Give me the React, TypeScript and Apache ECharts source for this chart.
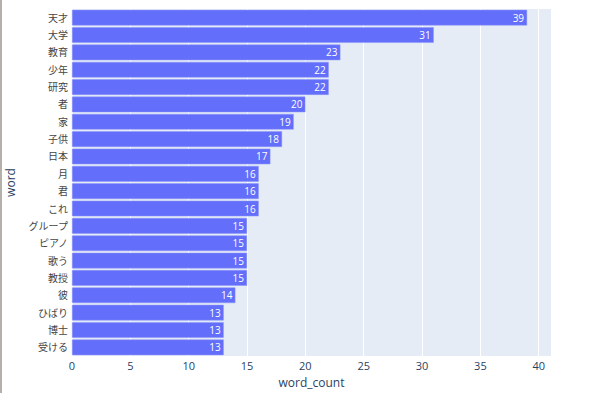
import React, { useEffect, useRef } from "react";
import * as echarts from "echarts";

const words = ["天才", "大学", "教育", "少年", "研究", "者", "家", "子供", "日本", "月", "君", "これ", "グループ", "ピアノ", "歌う", "教授", "彼", "ひばり", "博士", "受ける"];
const counts = [39, 31, 23, 22, 22, 20, 19, 18, 17, 16, 16, 16, 15, 15, 15, 15, 14, 13, 13, 13];
const xTicks = [0, 5, 10, 15, 20, 25, 30, 35, 40];

const FONT = '"Open Sans", "Noto Sans CJK JP", sans-serif';

export default function App() {
  const ref = useRef<HTMLDivElement>(null);
  useEffect(() => {
    const chart = echarts.init(ref.current!, null, { renderer: "svg" });
    chart.setOption({
      animation: false,
      backgroundColor: "#ffffff",
      textStyle: { fontFamily: FONT },
      grid: {
        left: 72,
        right: 49,
        top: 9,
        bottom: 37,
        containLabel: false,
        outerBoundsMode: "none",
        show: true,
        backgroundColor: "#e5ecf6",
        borderWidth: 0,
      },
      xAxis: {
        type: "value",
        min: 0,
        max: 41.05,
        interval: 5,
        name: "word_count",
        nameLocation: "middle",
        nameGap: 20,
        nameTextStyle: { color: "#2a3f5f", fontSize: 12, fontFamily: FONT },
        axisLine: { show: false },
        axisTick: { show: false },
        axisLabel: {
          color: "#2a3f5f",
          fontSize: 11,
          fontFamily: FONT,
          margin: 4,
          formatter: (v: number) => (xTicks.includes(v) ? String(v) : ""),
        },
        splitLine: { show: true, lineStyle: { color: "#ffffff", width: 1 } },
      },
      yAxis: {
        type: "category",
        data: words,
        inverse: true,
        name: "word",
        nameLocation: "middle",
        nameGap: 56,
        nameRotate: 90,
        nameTextStyle: { color: "#2a3f5f", fontSize: 12, fontFamily: FONT },
        axisLine: { show: false },
        axisTick: { show: false },
        axisLabel: { color: "#444444", fontSize: 10, fontFamily: FONT, margin: 4 },
        splitLine: { show: false },
      },
      series: [
        {
          type: "bar",
          data: counts,
          barCategoryGap: "10%",
          itemStyle: { color: "#636efa", borderColor: "#8f97fb", borderWidth: 0.5 },
          label: {
            show: true,
            position: "insideRight",
            color: "#ffffff",
            fontSize: 10,
            fontFamily: FONT,
            distance: 3,
          },
        },
      ],
      graphic: [
        { type: "rect", shape: { x: 0, y: 0, width: 2, height: 393 }, style: { fill: "#b5b0aa" } },
      ],
    });
    return () => chart.dispose();
  }, []);
  return (
    <div
      ref={ref}
      style={{ position: "absolute", left: 0, top: 0, width: 600, height: 393 }}
    />
  );
}
